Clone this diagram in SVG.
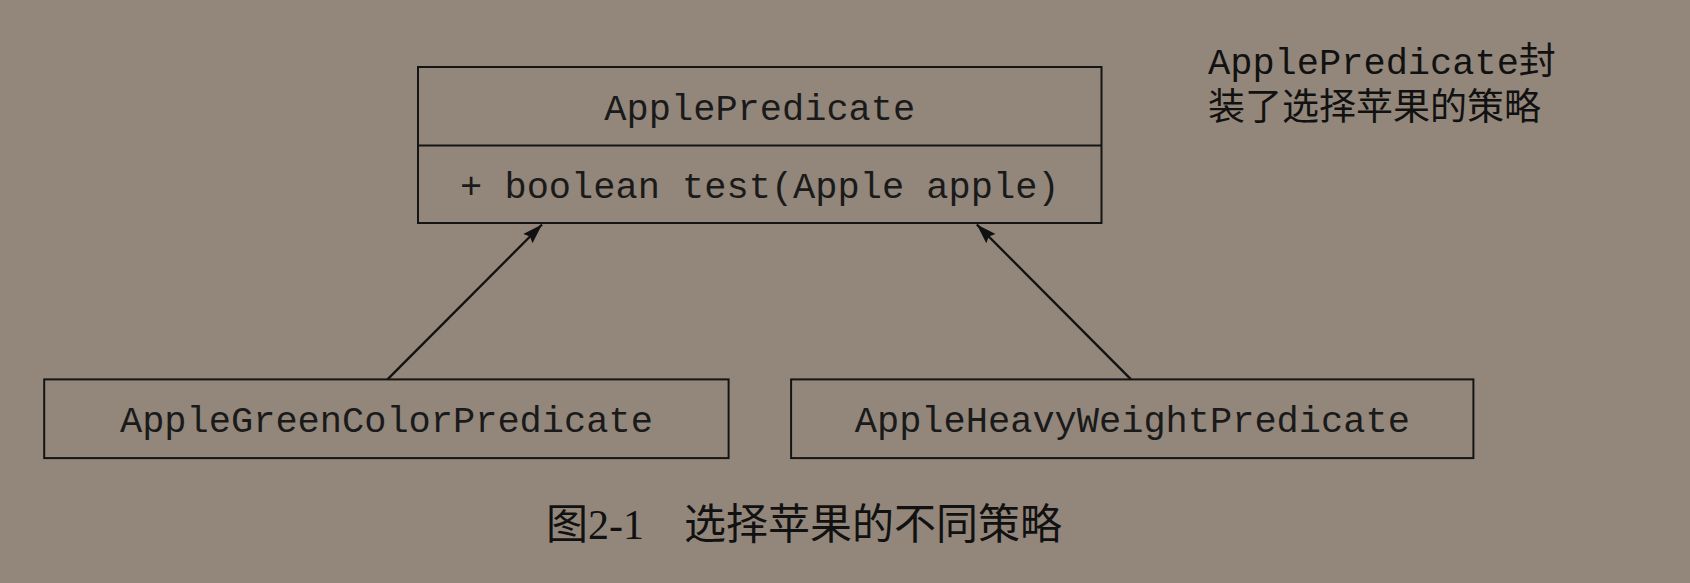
<svg xmlns="http://www.w3.org/2000/svg" width="1690" height="583" viewBox="0 0 1690 583">
  <defs>
    <style>
      .box { fill: none; stroke: #141414; stroke-width: 2; }
      .mono { font-family: "Liberation Mono", "Noto Sans CJK SC", monospace; font-size: 37px; fill: #1a1a1a; }
      .note { font-family: "Liberation Mono", "Noto Sans CJK SC", monospace; font-size: 37px; fill: #111; }
      .cap { font-family: "Liberation Serif", "Noto Sans CJK SC", serif; font-size: 42px; fill: #111; }
      .conn { stroke: #111; stroke-width: 2.3; fill: none; marker-end: url(#arrow); }
    </style>
    <marker id="arrow" markerWidth="22" markerHeight="16" refX="20" refY="7" orient="auto" markerUnits="userSpaceOnUse">
      <path d="M0,0.5 L20,7 L0,13.5 L3,7 Z" fill="#111"/>
    </marker>
  </defs>
  <rect width="1690" height="583" fill="#93877b"/>

  <g id="connectors">
    <line class="conn" x1="387.5" y1="379.4" x2="542" y2="224.5"/>
    <line class="conn" x1="1131" y1="379.4" x2="976.8" y2="224.5"/>
  </g>

  <g id="node-ApplePredicate">
    <rect class="box" x="418" y="67" width="683.5" height="156"/>
    <line class="box" x1="418" y1="145.5" x2="1101.5" y2="145.5"/>
    <text class="mono" x="759.8" y="120" text-anchor="middle">ApplePredicate</text>
    <text class="mono" x="759.8" y="198" text-anchor="middle">+ boolean test(Apple apple)</text>
  </g>

  <g id="node-AppleGreenColorPredicate">
    <rect class="box" x="44.2" y="379.4" width="684.4" height="78.7"/>
    <text class="mono" x="386.4" y="432" text-anchor="middle">AppleGreenColorPredicate</text>
  </g>

  <g id="node-AppleHeavyWeightPredicate">
    <rect class="box" x="791.1" y="379.4" width="682.3" height="78.7"/>
    <text class="mono" x="1132.3" y="432" text-anchor="middle">AppleHeavyWeightPredicate</text>
  </g>

  <g id="note">
    <text class="note" x="1208" y="74">ApplePredicate封</text>
    <text class="note" x="1208" y="120">装了选择苹果的策略</text>
  </g>

  <g id="caption">
    <text class="cap" x="546" y="539">图2-1</text>
    <text class="cap" x="684" y="539">选择苹果的不同策略</text>
  </g>
</svg>
